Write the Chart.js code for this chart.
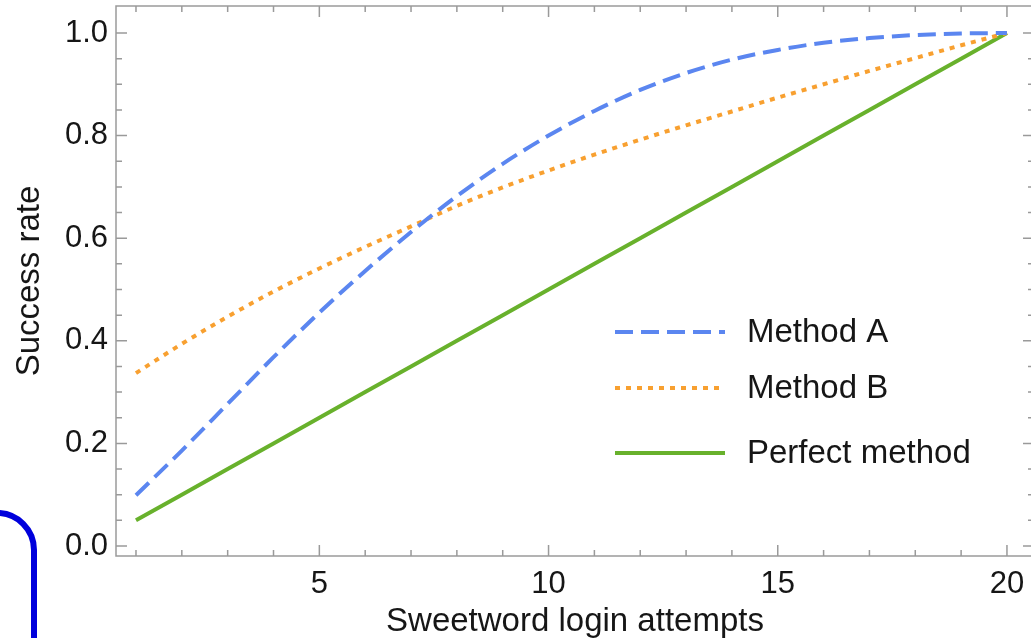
<!DOCTYPE html>
<html>
<head>
<meta charset="utf-8">
<script src="https://cdn.jsdelivr.net/npm/chart.js@4.4.1/dist/chart.umd.min.js"></script>
<style>
  html, body { margin: 0; padding: 0; background: #fff; overflow: hidden; }
  #wrap { position: relative; width: 1031px; height: 638px; overflow: hidden; }
  #box {
    position: absolute; left: -60px; top: 510px; width: 97px; height: 200px;
    box-sizing: border-box; border: 6px solid #0000dc; border-radius: 40px;
  }
</style>
</head>
<body>
<div id="wrap">
  <canvas id="myChart" width="1040" height="638"></canvas>
  <div id="box"></div>
</div>
<script>
// valores
const attempts = [1, 2, 3, 4, 5, 6, 7, 8, 9, 10, 11, 12, 13, 14, 15, 16, 17, 18, 19, 20];
const methodA = [0.099, 0.186, 0.277, 0.368, 0.455, 0.536, 0.612, 0.682, 0.745, 0.800, 0.848, 0.889, 0.922, 0.948, 0.967, 0.981, 0.990, 0.996, 0.999, 1.0];
const methodB = [0.337, 0.394, 0.447, 0.496, 0.541, 0.583, 0.623, 0.663, 0.699, 0.732, 0.763, 0.792, 0.820, 0.847, 0.874, 0.900, 0.926, 0.951, 0.976, 1.0];
const perfect = [0.05, 0.10, 0.15, 0.20, 0.25, 0.30, 0.35, 0.40, 0.45, 0.50, 0.55, 0.60, 0.65, 0.70, 0.75, 0.80, 0.85, 0.90, 0.95, 1.0];
const seriesNames = ['Method A', 'Method B', 'Perfect method'];
const xTicks = [5, 10, 15, 20];
const yTicks = [0, 0.2, 0.4, 0.6, 0.8, 1.0];

const FONT = '"Liberation Sans", Arial, sans-serif';
const TEXT = '#161616';

function pts(arr) {
  return attempts.map((x, i) => ({ x: x, y: arr[i] }));
}

// moldura com ticks para dentro nos 4 lados
const framePlugin = {
  id: 'frame',
  afterDraw(chart) {
    const { ctx, chartArea: a, scales } = chart;
    const xs = scales.x, ys = scales.y;
    ctx.save();
    ctx.strokeStyle = '#9a9a9a';
    ctx.lineWidth = 1.5;
    ctx.strokeRect(a.left, a.top, a.right - a.left, a.bottom - a.top);
    ctx.beginPath();
    attempts.forEach(v => {
      const px = xs.getPixelForValue(v);
      const len = v % 5 === 0 ? 11 : 6;
      ctx.moveTo(px, a.bottom); ctx.lineTo(px, a.bottom - len);
      ctx.moveTo(px, a.top); ctx.lineTo(px, a.top + len);
    });
    for (let k = 0; k <= 20; k++) {
      const v = k * 0.05;
      const py = ys.getPixelForValue(v);
      const len = k % 4 === 0 ? 11 : 6;
      ctx.moveTo(a.left, py); ctx.lineTo(a.left + len, py);
      ctx.moveTo(a.right, py); ctx.lineTo(a.right - len, py);
    }
    ctx.stroke();
    ctx.restore();
  }
};

// legenda dentro da area do grafico
const legendPlugin = {
  id: 'insideLegend',
  afterDatasetsDraw(chart) {
    const { ctx, chartArea: a } = chart;
    const rows = [326, 382, 447];
    const x0 = a.left + 499, x1 = a.left + 609, tx = a.left + 631;
    ctx.save();
    chart.data.datasets.forEach((ds, i) => {
      const y = a.top + rows[i];
      ctx.beginPath();
      ctx.strokeStyle = ds.borderColor;
      ctx.lineWidth = ds.borderWidth;
      ctx.setLineDash(ds.borderDash || []);
      ctx.moveTo(x0, y); ctx.lineTo(x1, y);
      ctx.stroke();
      ctx.setLineDash([]);
      ctx.fillStyle = TEXT;
      ctx.font = '33px ' + FONT;
      ctx.textBaseline = 'middle';
      ctx.textAlign = 'left';
      ctx.fillText(ds.label, tx, y + 1);
    });
    ctx.restore();
  }
};

const ctx = document.getElementById('myChart');

new Chart(ctx, {
  type: 'line',
  data: {
    datasets: [
      {
        label: seriesNames[0],
        data: pts(methodA),
        borderColor: '#5b86f0',
        borderWidth: 4,
        borderDash: [18, 8],
        pointRadius: 0,
        cubicInterpolationMode: 'monotone',
        fill: false
      },
      {
        label: seriesNames[1],
        data: pts(methodB),
        borderColor: '#f8a030',
        borderWidth: 4,
        borderDash: [5, 6],
        pointRadius: 0,
        cubicInterpolationMode: 'monotone',
        fill: false
      },
      {
        label: seriesNames[2],
        data: pts(perfect),
        borderColor: '#68b12c',
        borderWidth: 4,
        pointRadius: 0,
        fill: false
      }
    ]
  },
  options: {
    responsive: false,
    animation: false,
    layout: { padding: { top: 6, right: 6, left: 0, bottom: 0 } },
    plugins: {
      legend: { display: false },
      tooltip: { enabled: false }
    },
    scales: {
      x: {
        type: 'linear',
        min: 0.564,
        max: 20.59,
        grid: { display: false, drawTicks: false },
        border: { display: false },
        afterBuildTicks: s => { s.ticks = xTicks.map(v => ({ value: v })); },
        afterFit: s => { s.height = 82; s.paddingLeft = 0; s.paddingRight = 0; },
        ticks: {
          padding: 10,
          color: TEXT,
          font: { family: FONT, size: 31 },
          maxRotation: 0,
          callback: v => String(v)
        },
        title: {
          display: true,
          text: 'Sweetword login attempts',
          color: TEXT,
          font: { family: FONT, size: 33, lineHeight: 1.0 },
          padding: { top: 0, bottom: 0 }
        }
      },
      y: {
        min: -0.0195,
        max: 1.0526,
        grid: { display: false, drawTicks: false },
        border: { display: false },
        afterBuildTicks: s => { s.ticks = yTicks.map(v => ({ value: v })); },
        afterFit: s => { s.width = 116; s.paddingTop = 0; s.paddingBottom = 0; },
        ticks: {
          padding: 8,
          color: TEXT,
          font: { family: FONT, size: 31 },
          callback: v => Number(v).toFixed(1)
        },
        title: {
          display: true,
          text: 'Success rate',
          color: TEXT,
          font: { family: FONT, size: 33 },
          padding: { top: 10, bottom: 0 }
        }
      }
    }
  },
  plugins: [framePlugin, legendPlugin]
});
</script>
</body>
</html>
